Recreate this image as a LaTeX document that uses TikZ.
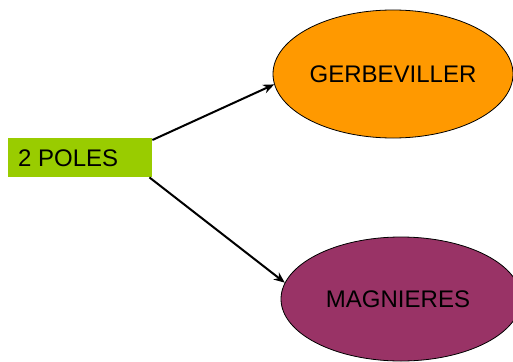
\documentclass[tikz,border=0pt]{standalone}
\usepackage{fontspec}
\setmainfont{Liberation Sans}
\usetikzlibrary{shapes.geometric,arrows.meta}
\definecolor{polegreen}{HTML}{99CC00}
\definecolor{gerborange}{HTML}{FF9900}
\definecolor{magpurple}{HTML}{993366}
\tikzset{
  lbl/.style={font=\fontsize{24}{28}\selectfont, text=black},
  oval/.style={ellipse, draw=black, line width=0.8pt, inner sep=0pt, lbl},
  conn/.style={line width=2pt, -{Stealth[length=11pt,width=9pt]}}
}
\begin{document}
\begin{tikzpicture}[x=1pt,y=-1pt]
\useasboundingbox (0,0) rectangle (513,361);
\node[fill=polegreen, minimum width=144pt, minimum height=39pt, inner sep=0pt, anchor=north west] (pole) at (8,138) {};
\node[lbl, anchor=base west, inner sep=0pt] (poletxt) at (18,166) {2 POLES};
\node[oval, fill=gerborange, minimum width=240pt, minimum height=128pt] (gerb) at (393,74) {GERBEVILLER};
\node[oval, fill=magpurple, minimum width=240pt, minimum height=124pt] (mag) at (401,299) {\hspace*{-6pt}MAGNIERES};
\draw[conn] ([yshift=-2pt]pole.north east) -- (gerb.185);
\draw[conn] ([xshift=-3pt]pole.south east) -- (mag.172);
\end{tikzpicture}
\end{document}
